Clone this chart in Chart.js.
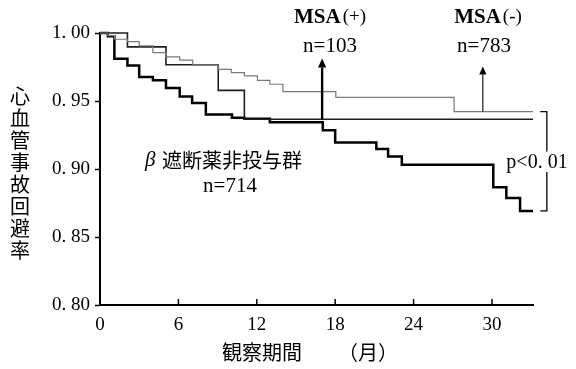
<!DOCTYPE html>
<html>
<head>
<meta charset="utf-8">
<script src="https://cdn.jsdelivr.net/npm/chart.js@4/dist/chart.umd.min.js"></script>
<style>
  html, body { margin: 0; padding: 0; background: #fff; }
  #wrap { width: 576px; height: 369px; }
</style>
</head>
<body>
<div id="wrap"><canvas id="km"></canvas></div>
<script>
// 観察期間（月）と事故回避率
const monthsNonBeta = [0, 0.6, 1.1, 2.1, 3.0, 4.05, 5.05, 6.1, 7.05, 8.1, 10.1, 11.05, 13.0, 17.05, 18.0, 21.15, 22.05, 23.1, 30.1, 31.1, 32.15, 33.14];
const survNonBeta = [1.0, 0.9976, 0.981, 0.9761, 0.9677, 0.9652, 0.9596, 0.9534, 0.9486, 0.94, 0.9376, 0.9369, 0.9344, 0.9285, 0.9195, 0.9147, 0.9092, 0.9031, 0.8866, 0.8786, 0.8692, 0.8692];

const monthsMsaPlus = [0, 2.1, 5.05, 9.05, 11.05, 33.14];
const survMsaPlus = [1.0, 0.9898, 0.9766, 0.9578, 0.9366, 0.9366];

const monthsMsaMinus = [0, 0.6, 1.1, 2.1, 3.0, 4.05, 5.05, 6.1, 7.1, 9.05, 10.05, 11.05, 12.05, 13.0, 14.0, 18.05, 27.1, 33.14];
const survMsaMinus = [1.0, 0.998, 0.9954, 0.9937, 0.9906, 0.9856, 0.9825, 0.98, 0.9766, 0.9733, 0.9709, 0.9685, 0.9652, 0.9623, 0.9569, 0.9526, 0.9422, 0.9422];

const xTicks = [0, 6, 12, 18, 24, 30];
const yTicks = [0.8, 0.85, 0.9, 0.95, 1.0];

// 矢印 [月, 始点, 先端]
const arrowMsaPlus = [17.0, 0.9366, 0.9812];
const arrowMsaMinus = [29.3, 0.9422, 0.9753];

const serif = '"Liberation Serif", "DejaVu Serif", serif';
const jp = '"Noto Sans CJK JP", sans-serif';

function toPoints(xs, ys) {
  return xs.map((x, i) => ({ x: x, y: ys[i] }));
}

// 注記・内向き目盛り
const annotate = {
  id: "annotate",
  afterDraw(chart) {
    const c = chart.ctx;
    const xs = chart.scales.x;
    const ys = chart.scales.y;
    const bottom = chart.chartArea.bottom;
    c.save();
    c.strokeStyle = "#000";
    c.fillStyle = "#000";

    // x目盛り（内向き）
    c.lineWidth = 1.5;
    xTicks.slice(1).forEach((t) => {
      const px = xs.getPixelForValue(t);
      c.beginPath();
      c.moveTo(px, bottom);
      c.lineTo(px, bottom - 6);
      c.stroke();
    });

    // 矢印
    function arrow(a, w, head) {
      const px = xs.getPixelForValue(a[0]);
      const y0 = ys.getPixelForValue(a[1]);
      const y1 = ys.getPixelForValue(a[2]);
      c.lineWidth = w;
      c.beginPath();
      c.moveTo(px, y0);
      c.lineTo(px, y1 + head);
      c.stroke();
      c.beginPath();
      c.moveTo(px, y1);
      c.lineTo(px - head / 2.2, y1 + head);
      c.lineTo(px + head / 2.2, y1 + head);
      c.closePath();
      c.fill();
    }
    arrow(arrowMsaPlus, 2.4, 9);
    arrow(arrowMsaMinus, 1.1, 8);

    // p値のかっこ
    const bx = xs.getPixelForValue(34.2);
    const bl = xs.getPixelForValue(33.7);
    const bt = ys.getPixelForValue(survMsaMinus[survMsaMinus.length - 1]);
    const bb = ys.getPixelForValue(survNonBeta[survNonBeta.length - 1]);
    c.lineWidth = 1.3;
    c.beginPath();
    c.moveTo(bl, bt);
    c.lineTo(bx, bt);
    c.lineTo(bx, bt + 40);
    c.moveTo(bx, bb - 39);
    c.lineTo(bx, bb);
    c.lineTo(bl, bb);
    c.stroke();

    // MSAラベル（太字＋通常の括弧）
    function msa(sign, cx) {
      c.font = "bold 21px " + serif;
      const w1 = c.measureText("MSA").width;
      c.font = "19px " + serif;
      const w2 = c.measureText(sign).width;
      const x0 = cx - (w1 + 2 + w2) / 2;
      c.textAlign = "left";
      c.font = "bold 21px " + serif;
      c.fillText("MSA", x0, 18);
      c.font = "19px " + serif;
      c.fillText(sign, x0 + w1 + 2, 17);
    }
    c.textBaseline = "middle";
    msa("(+)", 330);
    msa("(-)", 488);

    c.textAlign = "center";
    c.font = "21px " + serif;
    c.fillText("n=103", 330, 46);
    c.fillText("n=783", 484, 46);
    c.fillText("n=714", 230, 186);
    c.font = "20px " + serif;
    c.fillText("p<0. 01", 537, 163);

    c.textAlign = "left";
    c.font = "italic 21px " + serif;
    c.fillText("β", 145, 160);
    c.font = "20px " + jp;
    c.fillText("遮断薬非投与群", 162, 160);

    c.font = "20px " + jp;
    c.fillText("観察期間", 222, 352);
    c.fillText("（月）", 338, 352);

    c.textAlign = "center";
    const yTitle = "心血管事故回避率";
    for (let i = 0; i < yTitle.length; i++) {
      c.fillText(yTitle[i], 20, 96 + i * 22.1);
    }
    c.restore();
  },
};

const ctx = document.getElementById("km").getContext("2d");
const kmChart = new Chart(ctx, {
  type: "line",
  data: {
    datasets: [
      {
        label: "MSA(-)",
        data: toPoints(monthsMsaMinus, survMsaMinus),
        borderColor: "#7a7a7a",
        borderWidth: 1.2,
        stepped: true,
        pointRadius: 0,
        clip: false,
      },
      {
        label: "MSA(+)",
        data: toPoints(monthsMsaPlus, survMsaPlus),
        borderColor: "#1e1e1e",
        borderWidth: 1.6,
        stepped: true,
        pointRadius: 0,
        clip: false,
      },
      {
        label: "β遮断薬非投与群",
        data: toPoints(monthsNonBeta, survNonBeta),
        borderColor: "#000",
        borderWidth: 2.5,
        stepped: true,
        pointRadius: 0,
        clip: false,
      },
    ],
  },
  options: {
    responsive: true,
    maintainAspectRatio: false,
    animation: false,
    events: [],
    layout: {
      padding: { top: 33, right: 43, left: 0, bottom: 0 },
    },
    plugins: {
      legend: { display: false },
      tooltip: { enabled: false },
    },
    scales: {
      x: {
        type: "linear",
        min: 0,
        max: 33.14,
        afterBuildTicks: (scale) => {
          scale.ticks = xTicks.map((v) => ({ value: v }));
        },
        afterFit: (scale) => {
          scale.height = 64;
        },
        border: { display: true, color: "#000", width: 2 },
        grid: { display: true, drawOnChartArea: false, drawTicks: false },
        ticks: {
          padding: 9,
          color: "#000",
          font: { family: serif, size: 19 },
          maxRotation: 0,
        },
      },
      y: {
        min: 0.8,
        max: 1.0,
        afterBuildTicks: (scale) => {
          scale.ticks = yTicks.map((v) => ({ value: v }));
        },
        afterFit: (scale) => {
          scale.width = 100;
        },
        border: { display: true, color: "#000", width: 2 },
        grid: { display: true, drawOnChartArea: false, tickLength: 5, color: "#000", tickWidth: 1.5 },
        ticks: {
          padding: 5,
          color: "#000",
          font: { family: serif, size: 19 },
          callback: (v) => Number(v).toFixed(2).replace(".", ". "),
        },
      },
    },
  },
  plugins: [annotate],
});
</script>
</body>
</html>
